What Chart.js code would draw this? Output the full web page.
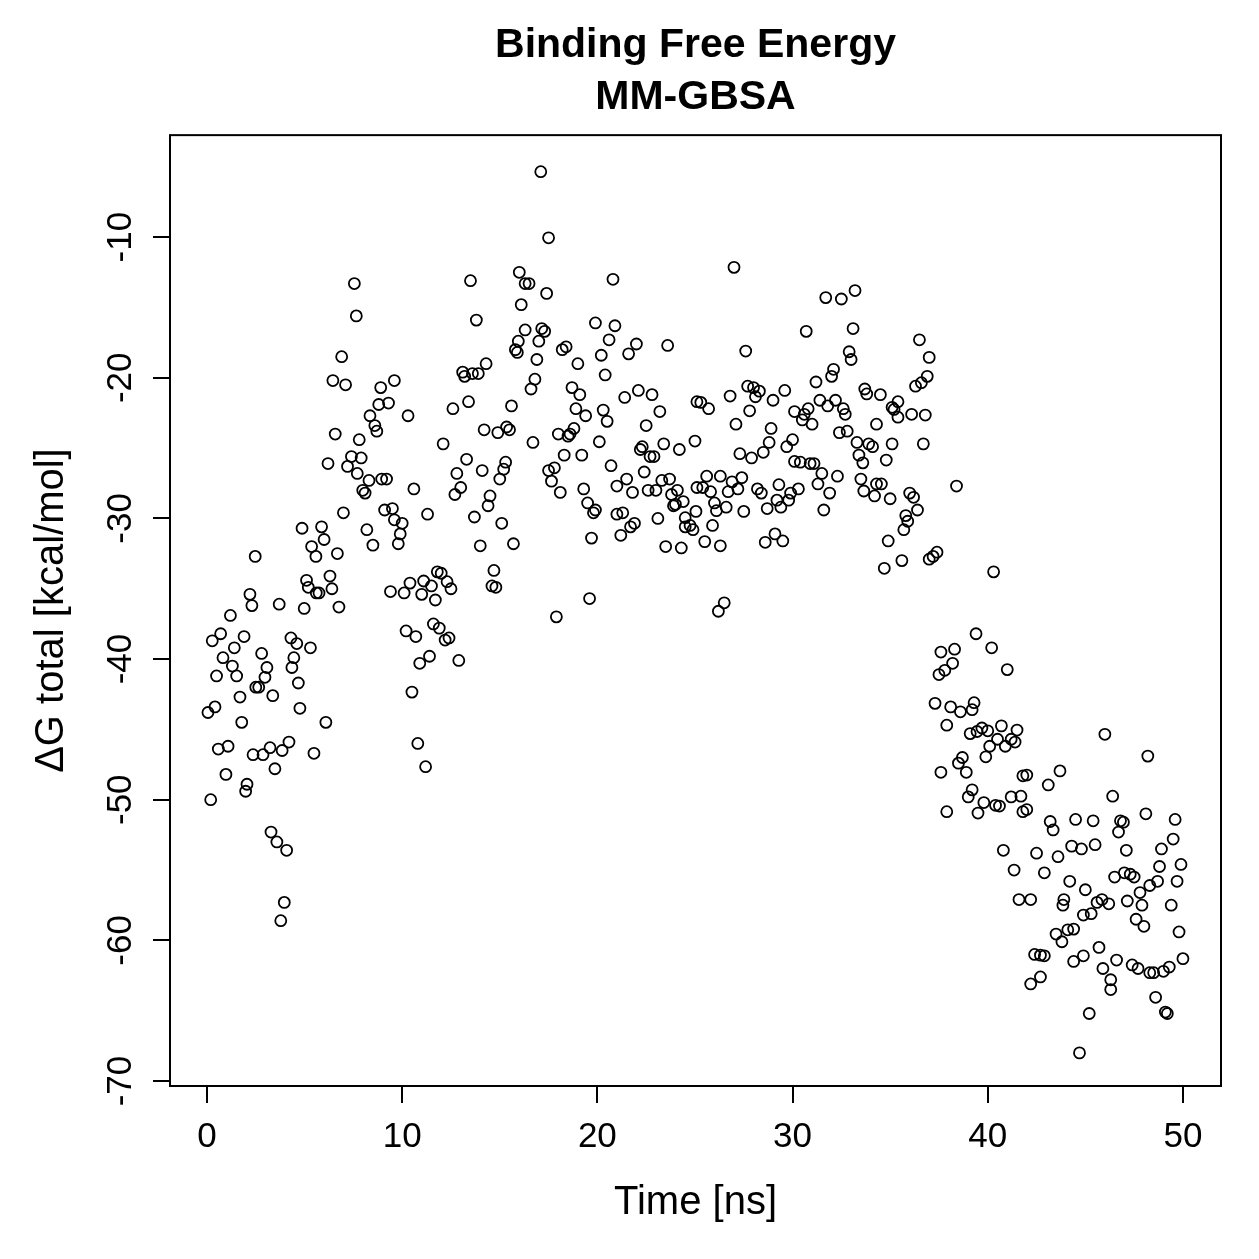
<!DOCTYPE html>
<html><head><meta charset="utf-8">
<script src="https://cdn.jsdelivr.net/npm/chart.js@4.4.1/dist/chart.umd.min.js"></script>
<style>html,body{margin:0;padding:0;background:#fff}#wrap{width:1259px;height:1259px}</style>
</head><body><div id="wrap"><canvas id="c" width="1259" height="1259"></canvas></div>
<script>
const chartTitle = ['Binding Free Energy', 'MM-GBSA'];
const xTitle = 'Time [ns]';
const yTitle = '\u0394G total [kcal/mol]';
const xTicks = [0, 10, 20, 30, 40, 50];
const yTicks = [-70, -60, -50, -40, -30, -20, -10];

const times = [
0.27,0.7,1.9,1.4,2.8,4.3,4.6,5.3,0.82,1.3,3.07,4.45,4.35,0.49,1.52,2.97,2.5,2.65,4.68,1.69,
3.37,4.76,0.41,0.05,1.78,6.09,0.58,1.08,2.36,2.87,3.23,3.85,4.2,5.48,3.48,0.97,2.05,1.98,0.19,3.28,
3.58,4.08,3.96,3.78,1.2,2.2,2.3,3.7,4.98,6.76,2.47,5.1,5.19,5.74,5.6,6.3,6.4,4.87,5.87,6.0,
5.36,5.58,6.68,6.99,8.19,7.98,6.2,7.4,7.9,7.2,7.7,6.57,7.8,8.35,6.45,7.1,6.9,7.55,7.65,8.1,
8.3,8.95,9.2,10.6,9.1,9.5,11.3,9.6,10.0,9.9,8.5,9.8,9.6,8.9,9.3,8.8,10.3,8.6,8.7,9.4,
10.1,10.4,11.1,11.8,12.0,12.3,12.5,11.5,11.0,11.7,11.6,11.9,10.2,10.7,12.2,12.4,11.4,10.9,12.9,10.5,
10.8,11.2,13.5,13.8,14.3,13.1,13.2,13.6,13.9,12.6,13.4,15.6,14.2,14.9,15.35,15.5,12.1,13.3,12.8,14.1,
15.3,15.2,15.0,13.0,12.7,14.5,14.4,13.7,15.1,14.0,15.7,14.7,14.6,14.8,16.0,16.3,16.5,16.1,16.3,15.95,
15.8,15.9,17.1,17.5,17.4,20.8,17.15,17.3,17.0,16.9,18.2,18.4,19.0,19.9,20.9,20.6,20.2,21.6,22.0,23.6,
20.4,16.8,16.6,18.7,19.1,21.4,22.1,22.8,25.1,18.9,19.4,20.3,20.5,23.2,22.5,16.7,18.0,18.6,18.8,18.5,
20.1,22.2,22.3,22.7,22.9,23.4,24.2,25.0,18.3,19.2,20.7,22.4,17.5,17.8,17.65,18.1,19.3,21.0,21.5,21.8,
22.6,23.0,23.3,23.7,23.8,24.1,24.4,24.0,23.9,25.1,19.5,19.9,19.8,21.0,21.3,21.9,21.7,21.2,23.1,24.5,
24.75,24.5,24.9,19.7,23.5,24.3,19.6,17.9,27.0,31.7,32.5,33.2,30.7,33.1,27.6,32.9,33.0,32.1,32.0,31.2,
27.7,28.0,28.3,28.1,29.6,26.8,25.3,25.7,29.0,27.8,27.1,28.9,31.4,31.8,32.2,30.1,30.8,30.6,30.5,31.0,
32.6,32.7,33.7,33.8,32.4,32.8,27.3,27.9,28.5,28.8,29.7,30.0,33.3,33.9,34.1,33.4,33.6,30.1,30.4,30.9,
31.1,31.5,32.3,33.5,31.3,31.9,31.6,33.65,25.6,26.3,26.9,27.4,25.4,25.8,26.7,27.2,28.2,28.4,29.3,30.3,
29.9,29.8,29.2,29.4,28.7,26.0,26.1,26.6,27.5,25.05,25.9,25.5,26.3,28.6,29.1,29.5,26.5,26.2,36.5,37.0,
36.9,36.6,36.3,34.5,35.4,35.1,35.2,35.4,36.1,36.8,34.3,35.1,36.7,34.8,34.3,34.55,34.2,35.0,36.0,36.2,
36.4,35.8,35.9,35.7,38.4,34.9,34.7,35.6,37.0,37.2,37.4,40.3,39.4,40.2,37.6,38.3,38.2,37.8,37.5,41.0,
37.3,38.1,38.6,39.3,39.2,37.9,39.1,39.45,39.7,40.0,40.7,40.5,40.1,41.5,41.2,41.4,40.9,39.9,38.7,38.5,
37.6,38.9,41.8,42.0,39.2,39.0,39.8,40.4,40.6,41.2,41.7,37.9,39.5,41.8,42.0,40.8,41.35,41.6,42.2,46.0,
48.2,43.7,43.1,46.4,48.1,49.6,43.2,43.35,44.5,45.4,46.8,46.95,46.7,49.5,48.9,44.3,44.8,45.5,47.1,42.5,
43.6,48.8,49.9,42.9,46.5,47.0,47.3,47.5,44.2,49.7,48.7,48.3,45.0,47.8,43.9,45.85,47.15,43.85,45.6,46.2,
47.9,49.4,44.9,45.3,47.6,48.0,49.8,43.5,44.1,44.4,43.8,45.7,46.6,47.4,47.7,45.9,46.3,46.3,44.9,44.4,
42.4,42.7,42.9,42.7,42.2,48.3,48.5,49.0,49.3,50.0,48.6,49.1,49.2,45.2,44.7
];
const dG = [
-38.7,-38.2,-38.4,-39.2,-39.6,-38.5,-38.9,-39.2,-39.9,-40.5,-40.6,-39.9,-40.6,-41.2,-41.2,-41.3,-42.0,-42.0,-41.7,-42.7,
-42.6,-43.5,-43.4,-43.8,-44.5,-44.5,-46.4,-46.2,-46.8,-46.8,-46.3,-46.5,-45.9,-46.7,-47.8,-48.2,-48.9,-49.4,-50.0,-52.3,
-53.0,-53.6,-57.3,-58.6,-36.9,-35.4,-36.2,-36.1,-36.4,-36.3,-32.7,-34.4,-34.9,-35.3,-35.3,-34.1,-35.0,-30.7,-30.6,-31.5,
-32.0,-32.7,-32.5,-29.6,-30.8,-28.0,-26.1,-25.6,-25.7,-26.3,-26.8,-24.0,-24.4,-22.7,-20.2,-20.5,-18.5,-13.3,-15.6,-28.2,
-27.3,-27.2,-27.2,-27.9,-29.4,-29.3,-29.7,-30.1,-30.35,-31.1,-31.9,-31.8,-20.2,-20.7,-21.8,-21.9,-22.7,-23.4,-23.8,-35.2,
-35.3,-34.6,-34.45,-33.8,-33.9,-34.5,-35.0,-34.8,-35.4,-35.8,-37.5,-37.8,-38.0,-38.4,-38.65,-38.5,-39.8,-40.3,-40.1,-42.35,
-46.0,-47.65,-13.1,-15.9,-19.0,-19.6,-19.9,-19.7,-19.7,-22.2,-21.7,-22.0,-23.7,-23.9,-23.5,-23.7,-24.7,-25.8,-26.8,-26.6,
-26.0,-26.5,-27.2,-27.8,-28.3,-28.4,-29.1,-29.9,-30.35,-31.95,-31.8,-33.7,-34.8,-34.9,-12.5,-13.3,-13.3,-14.8,-16.6,-17.4,
-18.0,-18.2,-5.35,-10.05,-14.0,-13.0,-16.5,-16.7,-17.4,-18.7,-18.0,-17.8,-19.0,-16.1,-16.3,-17.3,-18.4,-18.3,-17.6,-17.7,
-19.8,-20.1,-20.8,-20.7,-21.2,-21.4,-20.9,-21.2,-21.7,-22.2,-22.7,-22.3,-23.1,-22.4,-23.4,-24.6,-24.0,-24.0,-23.6,-24.15,
-24.55,-25.1,-24.9,-25.6,-25.6,-24.7,-25.1,-24.5,-25.5,-25.5,-26.25,-26.7,-26.6,-26.4,-27.35,-28.15,-27.9,-27.7,-27.2,-28.15,
-28.0,-28.0,-27.3,-27.2,-28.3,-28.0,-28.8,-29.0,-29.1,-27.8,-28.9,-29.4,-29.6,-29.7,-29.6,-30.35,-30.6,-31.2,-30.0,-29.95,
-30.5,-30.6,-30.8,-31.4,-32.0,-32.1,-35.7,-37.0,-12.15,-14.3,-14.4,-13.8,-16.7,-16.5,-18.1,-18.15,-18.7,-19.4,-19.9,-20.3,
-20.6,-20.7,-20.95,-21.35,-20.9,-21.3,-21.75,-22.2,-21.6,-22.35,-23.3,-23.6,-21.6,-22.0,-21.6,-22.4,-22.2,-22.6,-23.0,-23.3,
-22.2,-22.6,-20.8,-21.15,-23.9,-23.8,-25.4,-25.7,-25.3,-24.6,-24.9,-24.4,-24.6,-24.7,-24.9,-25.5,-26.05,-25.95,-26.0,-26.1,
-26.1,-26.8,-27.0,-27.2,-27.55,-28.2,-29.4,-28.05,-27.0,-27.0,-27.4,-27.1,-27.8,-28.1,-28.1,-27.9,-27.9,-28.2,-27.6,-27.9,
-28.2,-28.7,-28.7,-29.2,-29.3,-28.9,-29.45,-29.2,-29.5,-29.5,-30.5,-31.65,-31.95,-31.7,-31.1,-31.6,-36.0,-36.6,-17.3,-18.55,
-19.9,-20.35,-20.6,-21.2,-21.7,-22.1,-22.25,-22.8,-22.6,-22.65,-23.3,-24.7,-24.7,-25.85,-27.55,-27.55,-28.4,-28.6,-28.2,-28.5,
-29.4,-29.8,-30.2,-30.8,-27.7,-31.6,-33.55,-33.0,-32.9,-32.7,-32.4,-33.8,-38.2,-39.2,-39.5,-39.3,-40.3,-40.8,-41.1,-40.75,
-43.15,-43.4,-43.75,-43.1,-43.6,-44.7,-45.3,-45.15,-44.9,-45.1,-44.75,-45.7,-46.2,-45.05,-45.7,-45.9,-46.2,-46.95,-47.0,-47.4,
-48.05,-48.05,-48.3,-48.25,-49.3,-49.8,-50.2,-50.4,-50.45,-49.8,-49.75,-50.85,-50.95,-50.85,-50.7,-53.6,-55.0,-57.1,-57.1,-45.35,
-46.9,-47.95,-48.95,-49.75,-51.0,-51.4,-51.55,-52.15,-51.4,-51.5,-51.5,-51.6,-52.3,-52.8,-53.5,-53.3,-53.5,-53.2,-53.6,-53.8,
-54.05,-54.75,-54.6,-55.2,-55.5,-55.2,-55.3,-55.5,-55.8,-55.8,-55.8,-56.1,-56.4,-56.6,-57.1,-57.1,-57.2,-57.5,-57.3,-57.4,
-57.5,-57.5,-58.2,-58.1,-58.5,-59.0,-59.4,-59.55,-59.25,-59.2,-60.1,-60.5,-61.4,-61.75,-62.0,-62.0,-62.8,-63.5,-61.1,-61.5,
-61.0,-61.05,-61.1,-62.6,-63.1,-62.3,-62.3,-62.2,-61.9,-61.3,-64.05,-65.1,-65.2,-65.2,-68.0
];

const FONT = "'Liberation Sans', Arial, Helvetica, sans-serif";
const points = times.map((t, i) => ({x: t, y: dG[i]}));

const boxPlugin = {
  id: 'box',
  afterDatasetsDraw(chart) {
    const {ctx, chartArea: a} = chart;
    ctx.save();
    ctx.strokeStyle = '#000';
    ctx.lineWidth = 2;
    ctx.strokeRect(a.left, a.top, a.right - a.left, a.bottom - a.top);
    ctx.restore();
  }
};

new Chart(document.getElementById('c'), {
  type: 'scatter',
  data: {datasets: [{
    data: points,
    pointStyle: 'circle',
    pointRadius: 5.5,
    pointBorderWidth: 1.8,
    borderColor: '#000',
    backgroundColor: 'rgba(0,0,0,0)',
    pointBackgroundColor: 'rgba(0,0,0,0)',
    pointBorderColor: '#000'
  }]},
  options: {
    responsive: false,
    animation: false,
    devicePixelRatio: 1,
    events: [],
    layout: {padding: {left: 0, right: 38, top: 0, bottom: 0}},
    plugins: {
      legend: {display: false},
      tooltip: {enabled: false},
      title: {
        display: true, text: chartTitle, color: '#000', fullSize: false,
        font: {family: FONT, size: 41, weight: 'bold', lineHeight: 1.27},
        padding: {top: 20, bottom: 11}
      }
    },
    scales: {
      x: {
        type: 'linear', position: 'bottom',
        min: -1.895, max: 51.95,
        afterBuildTicks: s => { s.ticks = xTicks.map(v => ({value: v})); },
        afterFit: s => { s.height = 173; },
        grid: {drawOnChartArea: false, drawTicks: true, tickLength: 17, tickWidth: 2, tickColor: '#000', color: '#000', lineWidth: 2},
        border: {display: false},
        ticks: {color: '#000', font: {family: FONT, size: 35}, padding: 13, maxRotation: 0, minRotation: 0, autoSkip: false},
        title: {display: true, text: xTitle, color: '#000', font: {family: FONT, size: 40, lineHeight: 1.2}, padding: {top: 0, bottom: 32}}
      },
      y: {
        type: 'linear', position: 'left',
        min: -70.355, max: -2.749,
        afterBuildTicks: s => { s.ticks = yTicks.map(v => ({value: v})); },
        afterFit: s => { s.width = 170; },
        grid: {drawOnChartArea: false, drawTicks: true, tickLength: 17, tickWidth: 2, tickColor: '#000', color: '#000', lineWidth: 2},
        border: {display: false},
        ticks: {color: '#000', font: {family: FONT, size: 35}, padding: 6, minRotation: 90, maxRotation: 90, crossAlign: 'center', autoSkip: false},
        title: {display: true, text: yTitle, color: '#000', font: {family: FONT, size: 40, lineHeight: 1.2}, padding: {top: 28, bottom: 0}}
      }
    }
  },
  plugins: [boxPlugin]
});
</script>
</body></html>
